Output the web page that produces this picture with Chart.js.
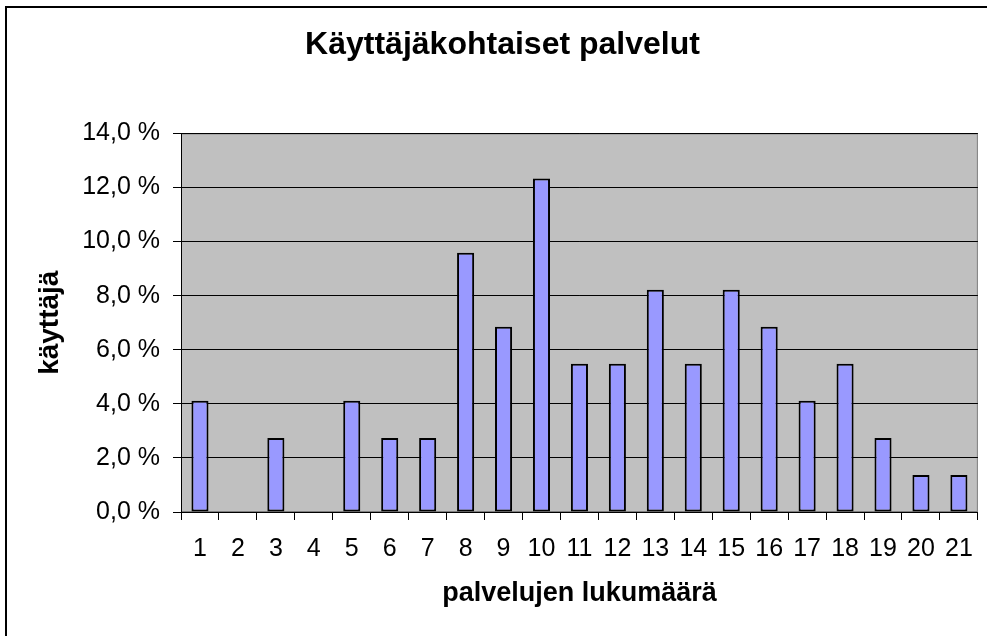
<!DOCTYPE html>
<html>
<head>
<meta charset="utf-8">
<title>Käyttäjäkohtaiset palvelut</title>
<script src="https://cdn.jsdelivr.net/npm/chart.js@4/dist/chart.umd.min.js"></script>
<style>
  html, body { margin: 0; padding: 0; background: #fff; }
  #wrap { position: relative; width: 987px; height: 636px; }
</style>
</head>
<body>
<div id="wrap"><canvas id="myChart"></canvas></div>
<script>
// palvelujen lukumäärä (x) ja käyttäjien osuus prosentteina (y)
const categories = ["1", "2", "3", "4", "5", "6", "7", "8", "9", "10", "11",
	"12", "13", "14", "15", "16", "17", "18", "19", "20", "21"];
const userShares = [4.11, 0, 2.74, 0, 4.11, 2.74, 2.74, 9.59, 6.85, 12.33, 5.48,
	5.48, 8.22, 5.48, 8.22, 6.85, 4.11, 5.48, 2.74, 1.37, 1.37];
const yMin = 0;
const yMax = 14;
const yStep = 2;

const FONT = "'Liberation Sans', Arial, sans-serif";

// gray plot area and the frame lines on the top and left edge
const plotBackground = {
	id: "plotBackground",
	beforeDraw(chart) {
		const { ctx, chartArea: a } = chart;
		ctx.save();
		ctx.fillStyle = "#000";
		ctx.fillRect(5, 6, 982, 2);
		ctx.fillRect(5, 6, 2, 630);
		ctx.fillStyle = "#c0c0c0";
		ctx.fillRect(a.left, a.top, a.right - a.left, a.bottom - a.top);
		ctx.strokeStyle = "#808080";
		ctx.lineWidth = 1;
		ctx.strokeRect(a.left + 0.5, a.top + 0.5, a.right - a.left - 1, a.bottom - a.top - 1);
		ctx.restore();
	},
};

const ctx = document.getElementById("myChart").getContext("2d");

new Chart(ctx, {
	type: "bar",
	data: {
		labels: categories,
		datasets: [
			{
				label: "käyttäjä",
				data: userShares,
				backgroundColor: "#9999ff",
				borderColor: "#000",
				borderWidth: 2,
				borderSkipped: false,
				barPercentage: 0.45,
				categoryPercentage: 1,
			},
		],
	},
	options: {
		responsive: true,
		maintainAspectRatio: false,
		animation: false,
		layout: {
			padding: { left: 26, right: 8, top: 0, bottom: 0 },
		},
		plugins: {
			legend: { display: false },
			tooltip: { enabled: false },
			title: {
				display: true,
				text: "Käyttäjäkohtaiset palvelut",
				color: "#000",
				font: { family: FONT, size: 32, weight: "bold" },
				padding: { top: 26, bottom: 69 },
			},
		},
		scales: {
			x: {
				grid: {
					display: true,
					drawOnChartArea: false,
					tickLength: 8,
					color: "#000",
					offset: true,
				},
				border: { display: true, color: "#000", width: 1 },
				ticks: {
					color: "#000",
					font: { family: FONT, size: 25 },
					padding: 14,
					maxRotation: 0,
					autoSkip: false,
				},
				title: {
					display: true,
					text: "palvelujen lukumäärä",
					color: "#000",
					font: { family: FONT, size: 27, weight: "bold" },
					padding: { top: 0, bottom: 26 },
				},
				afterFit(scale) {
					scale.height = 124;
				},
			},
			y: {
				min: yMin,
				max: yMax,
				grid: { color: "#000", tickLength: 8 },
				border: { display: true, color: "#000", width: 1 },
				ticks: {
					stepSize: yStep,
					color: "#000",
					font: { family: FONT, size: 25 },
					padding: 13,
					callback: function (value) {
						return value.toFixed(1).replace(".", ",") + " %";
					},
				},
				title: {
					display: true,
					text: "käyttäjä",
					color: "#000",
					font: { family: FONT, size: 28, weight: "bold" },
					padding: { top: 7, bottom: 0 },
				},
				afterFit(scale) {
					scale.width = 155;
				},
			},
		},
	},
	plugins: [plotBackground],
});
</script>
</body>
</html>
